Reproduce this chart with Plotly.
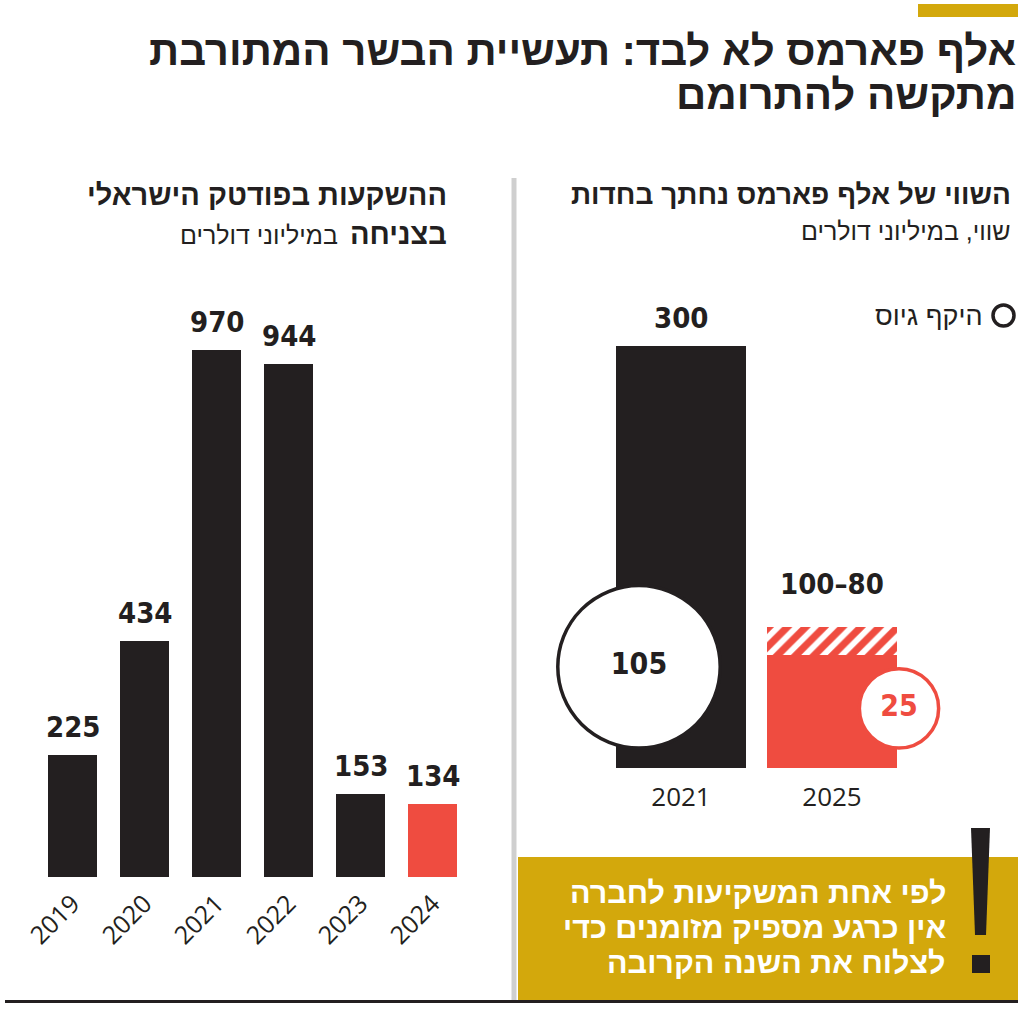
import math
import plotly.graph_objects as go

W, H = 1024, 1010

# ---------------- data ----------------
inv_years = ['2019', '2020', '2021', '2022', '2023', '2024']
inv_values = [225, 434, 970, 944, 153, 134]

val_years = ['2021', '2025']
val_low = [300, 80]
val_high = [300, 100]
val_labels = ['300', '100–80']
raised = [105, 25]

title_lines = ['אלף פארמס לא לבד: תעשיית הבשר המתורבת', 'מתקשה להתרומם']
left_title = 'ההשקעות בפודטק הישראלי'
left_sub_bold = 'בצניחה'
left_sub = 'במיליוני דולרים'
right_title = 'השווי של אלף פארמס נחתך בחדות'
right_sub = 'שווי, במיליוני דולרים'
legend_label = 'היקף גיוס'
note_lines = ['לפי אחת המשקיעות לחברה', 'אין כרגע מספיק מזומנים כדי', 'לצלוח את השנה הקרובה']

# ---------------- style ----------------
BLACK = '#231f20'
RED = '#ef4c40'
GOLD = '#d3a80c'
GRAY = '#cfcfcf'
HEB = 'Liberation Sans, Arial, sans-serif'
NUM = 'DejaVu Sans Condensed, Liberation Sans Narrow, sans-serif'
TICK = 'Open Sans, Liberation Sans, sans-serif'
NUM_SIZE = 29


def fx(x):
    return x / W


def fy(y):
    return 1 - y / H


# layout geometry (pixels)
L_X0, L_X1 = 36.5, 468.5
L_Y0, L_Y1 = 877, 279.4
L_YMAX = 1100
R_X0, R_X1 = 605.5, 907.5
R_Y0, R_Y1 = 768, 275.7
R_YMAX = 350

fig = go.Figure()

# left panel bars
left_colors = [BLACK] * (len(inv_values) - 1) + [RED]
fig.add_trace(go.Bar(
    x=inv_years, y=inv_values, width=0.68,
    marker=dict(color=left_colors, line=dict(width=0)),
    xaxis='x', yaxis='y', hoverinfo='skip', showlegend=False))

# right panel bars
xr = list(range(len(val_years)))
fig.add_trace(go.Bar(
    x=xr, y=val_low, width=0.855,
    marker=dict(color=[BLACK, RED], line=dict(width=0)),
    xaxis='x2', yaxis='y2', hoverinfo='skip', showlegend=False))
fig.add_trace(go.Bar(
    x=xr, y=[h - l for h, l in zip(val_high, val_low)], width=0.855,
    marker=dict(color=RED, line=dict(width=0),
                pattern=dict(shape='/', fgcolor=RED, bgcolor='white',
                             size=13, solidity=0.55, fillmode='replace')),
    xaxis='x2', yaxis='y2', hoverinfo='skip', showlegend=False))

# bubbles (area proportional to amount raised)
K = 15.85  # px of diameter per sqrt(unit)
sizeref = 2 / (K * K)
ppu_y = (R_Y0 - R_Y1) / R_YMAX
ppu_x = (R_X1 - R_X0) / 2
bubble_dx_px = [-42, 67]
bubble_lift_px = 20
diam = [K * math.sqrt(v) for v in raised]
bx = [i + dx / ppu_x for i, dx in zip(xr, bubble_dx_px)]
by = [(bubble_lift_px + d / 2) / ppu_y for d in diam]
fig.add_trace(go.Scatter(
    x=bx, y=by, mode='markers+text', text=[str(v) for v in raised],
    textposition='middle center',
    textfont=dict(family=NUM, size=NUM_SIZE + 1, color=[BLACK, RED], weight='bold'),
    marker=dict(size=raised, sizemode='area', sizeref=sizeref, color='white',
                opacity=1, line=dict(width=3.5, color=[BLACK, RED])),
    cliponaxis=False, xaxis='x2', yaxis='y2', hoverinfo='skip', showlegend=False))

annotations = []


def txt(text, x, y, size, family=HEB, bold=False, color=BLACK, xanchor='right'):
    annotations.append(dict(
        text=text, x=fx(x), y=fy(y), xref='paper', yref='paper',
        xanchor=xanchor, yanchor='middle', showarrow=False,
        font=dict(family=family, size=size, color=color,
                  weight='bold' if bold else 'normal')))


# value labels
for i, v in enumerate(inv_values):
    annotations.append(dict(
        text=str(v), x=i, y=v, xref='x', yref='y', yshift=28,
        yanchor='middle', showarrow=False,
        font=dict(family=NUM, size=NUM_SIZE, color=BLACK, weight='bold')))
label_shift = [28, 43]
for i, (hv, lab) in enumerate(zip(val_high, val_labels)):
    annotations.append(dict(
        text=lab, x=i, y=hv, xref='x2', yref='y2', yshift=label_shift[i],
        yanchor='middle', showarrow=False,
        font=dict(family=NUM, size=NUM_SIZE, color=BLACK, weight='bold')))

# titles
txt(title_lines[0], 1018, 50, 42, bold=True)
txt(title_lines[1], 1018, 95, 42, bold=True)
txt(left_title, 449, 195, 29, bold=True)
txt(left_sub_bold, 449, 234, 29, bold=True)
txt(left_sub, 340, 235, 25)
txt(right_title, 1013, 195, 28, bold=True)
txt(right_sub, 1013, 231, 25)
txt(legend_label, 985, 316, 27)

# note box text
for i, line in enumerate(note_lines):
    txt(line, 948, 892 + 35 * i, 30.5, bold=True, color='white')

shapes = [
    # gold tab at top
    dict(type='rect', xref='paper', yref='paper', x0=fx(918), x1=fx(1018),
         y0=fy(4), y1=fy(17), fillcolor=GOLD, line=dict(width=0)),
    # divider
    dict(type='line', xref='paper', yref='paper', x0=fx(514), x1=fx(514),
         y0=fy(178), y1=fy(1000), line=dict(color=GRAY, width=5)),
    # note box
    dict(type='rect', xref='paper', yref='paper', x0=fx(518), x1=fx(1018),
         y0=fy(857), y1=fy(1000), fillcolor=GOLD, line=dict(width=0), layer='below'),
    # bottom rule
    dict(type='line', xref='paper', yref='paper', x0=fx(5), x1=fx(1018),
         y0=fy(1001.5), y1=fy(1001.5), line=dict(color=BLACK, width=3)),
    # exclamation mark
    dict(type='path', xref='paper', yref='paper',
         path=f'M {fx(971)} {fy(828)} L {fx(990)} {fy(828)} L {fx(986)} {fy(935)} '
              f'L {fx(975)} {fy(935)} Z',
         fillcolor=BLACK, line=dict(width=0)),
    dict(type='rect', xref='paper', yref='paper', x0=fx(972), x1=fx(990),
         y0=fy(955), y1=fy(973), fillcolor=BLACK, line=dict(width=0)),
    # legend symbol
    dict(type='circle', xref='paper', yref='paper', x0=fx(993), x1=fx(1014),
         y0=fy(305), y1=fy(326), fillcolor='white', line=dict(color=BLACK, width=3.5)),
]

fig.update_layout(
    width=W, height=H, margin=dict(l=0, r=0, t=0, b=0, autoexpand=False),
    paper_bgcolor='white', plot_bgcolor='white',
    barmode='stack', showlegend=False,
    xaxis=dict(domain=[fx(L_X0), fx(L_X1)], type='category', range=[-0.5, 5.5],
               tickangle=-45, tickfont=dict(family=TICK, size=25, color=BLACK),
               showgrid=False, zeroline=False, showline=False, ticks='',
               anchor='y', ticklabelstandoff=6, automargin=False),
    yaxis=dict(domain=[fy(L_Y0), fy(L_Y1)], range=[0, L_YMAX], visible=False,
               anchor='x', automargin=False),
    xaxis2=dict(domain=[fx(R_X0), fx(R_X1)], range=[-0.5, 1.5], tickvals=xr,
                ticktext=val_years, tickfont=dict(family=TICK, size=26, color=BLACK),
                showgrid=False, zeroline=False, showline=False, ticks='',
                anchor='y2', ticklabelstandoff=11, automargin=False),
    yaxis2=dict(domain=[fy(R_Y0), fy(R_Y1)], range=[0, R_YMAX], visible=False,
                anchor='x2', automargin=False),
    annotations=annotations, shapes=shapes,
)

fig.write_html("out.html", config={'displayModeBar': False},
               post_script="document.body.style.margin='0px';")
